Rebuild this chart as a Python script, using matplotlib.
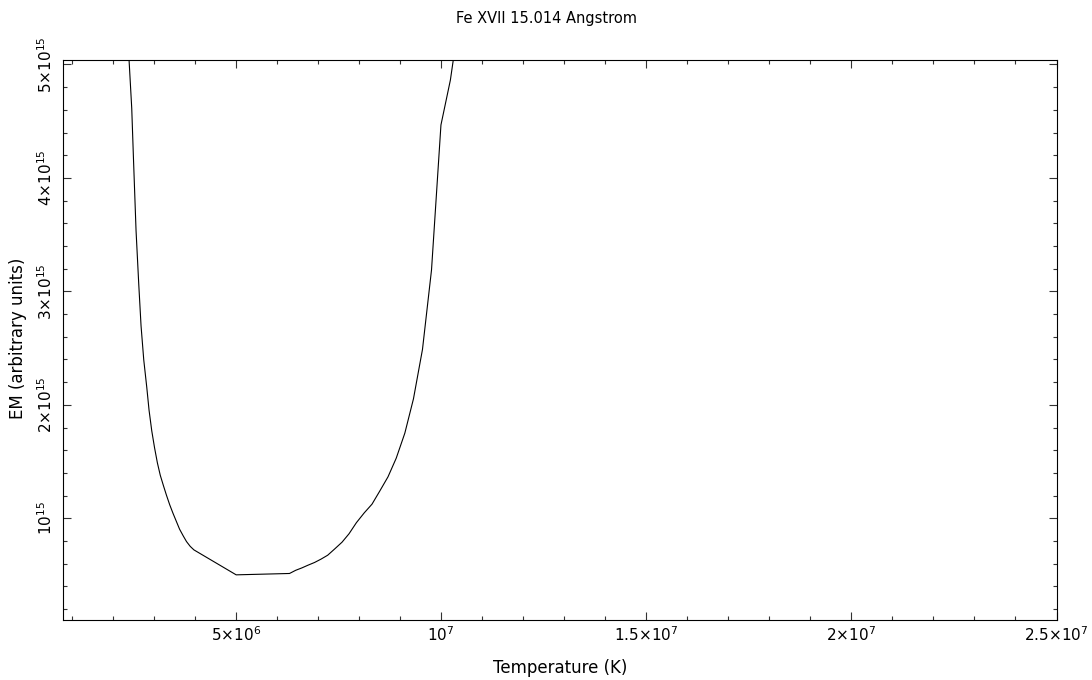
import matplotlib
matplotlib.use("Agg")
import matplotlib.pyplot as plt
from matplotlib.ticker import MultipleLocator, FixedLocator

plt.rcParams["font.family"] = ["DejaVu Sans"]
plt.rcParams["mathtext.default"] = "regular"

# temperature in units of 1e6 K, EM in units of 1e15
temp = [2.346, 2.465, 2.507, 2.570, 2.636, 2.692, 2.758, 2.831, 2.887, 2.953,
        3.02, 3.09, 3.16, 3.24, 3.31, 3.39, 3.47, 3.55, 3.63, 3.72, 3.80, 3.89, 3.98,
        5.01, 6.31,
        6.46, 6.61, 6.76, 6.92, 7.08, 7.24, 7.41, 7.59, 7.76, 7.94, 8.13, 8.32,
        8.51, 8.71, 8.91, 9.12, 9.33, 9.55, 9.77, 10.0, 10.23, 10.47]
em = [5.39, 4.614, 4.172, 3.536, 3.063, 2.696, 2.396, 2.156, 1.953, 1.771,
      1.624, 1.489, 1.380, 1.285, 1.205, 1.120, 1.045, 0.975, 0.905, 0.845, 0.795, 0.753, 0.722,
      0.502, 0.514,
      0.542, 0.563, 0.587, 0.611, 0.641, 0.675, 0.730, 0.790, 0.864, 0.962, 1.048, 1.125,
      1.241, 1.366, 1.530, 1.751, 2.053, 2.489, 3.189, 4.467, 4.863, 5.465]

x_ticks = [5e6, 1e7, 1.5e7, 2e7, 2.5e7]
x_labels = ["5×10$^6$", "10$^7$", "1.5×10$^7$", "2×10$^7$", "2.5×10$^7$"]
y_ticks = [1e15, 2e15, 3e15, 4e15, 5e15]
y_labels = ["10$^{15}$", "2×10$^{15}$", "3×10$^{15}$", "4×10$^{15}$", "5×10$^{15}$"]

fig = plt.figure(figsize=(10.92, 6.8), dpi=100)
ax = fig.add_axes([63 / 1092, 60 / 680, (1056.5 - 63) / 1092, (620 - 59.5) / 680])

ax.plot([t * 1e6 for t in temp], [e * 1e15 for e in em], color="black", lw=0.8)

ax.set_xlim(0.79e6, 2.5e7)
ax.set_ylim(0.104e15, 5.044e15)

ax.xaxis.set_major_locator(FixedLocator(x_ticks))
ax.set_xticklabels(x_labels)
ax.xaxis.set_minor_locator(MultipleLocator(1e6))
ax.yaxis.set_major_locator(FixedLocator(y_ticks))
ax.set_yticklabels(y_labels, rotation=90, va="center")
ax.yaxis.set_minor_locator(MultipleLocator(0.2e15))

ax.tick_params(which="both", direction="in", top=True, right=True, width=0.8, color="#333333")
ax.tick_params(which="major", length=5.8)
ax.tick_params(which="minor", length=2.9)
ax.tick_params(axis="x", which="major", pad=3.5, labelsize=11)
ax.tick_params(axis="y", which="major", pad=6, labelsize=11)
for s in ax.spines.values():
    s.set_linewidth(0.8)

fig.text(559.7 / 1092, 1 - 668 / 680, "Temperature (K)", ha="center", va="center", fontsize=12)
fig.text(18 / 1092, 1 - 338 / 680, "EM (arbitrary units)", ha="center", va="center",
         rotation=90, fontsize=12)
fig.text(0.5, 1 - 19 / 680, "Fe XVII 15.014 Angstrom", ha="center", va="center", fontsize=10.5)

fig.savefig("out.png", dpi=100)
